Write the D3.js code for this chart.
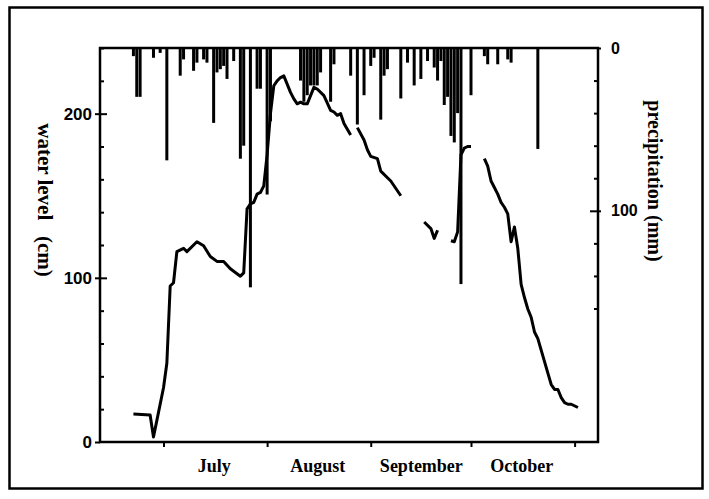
<!DOCTYPE html>
<html>
<head>
<meta charset="utf-8">
<script src="https://cdn.jsdelivr.net/npm/d3@7"></script>
<style>
  body { margin: 0; background: #fff; }
</style>
</head>
<body>
<div id="graph"></div>
<script>
// day of year (non-leap), water level in cm; null = gap in the record
const waterDays = [
    173,178,179,180,182,183,184,185,186,188,189,192,194,196,198,200,202,205,206,207,208,209,210,211,212,213,
    214,215,216,217,218,219,220,221,222,223,224,225,227,228,230,232,233,234,235,236,238,
    239,
    240,242,243,244,246,247,250,253,
    254,
    260,262,263,264,
    265,
    268,269,270,271,272,273,274,
    275,
    278,279,280,281,282,283,284,285,286,287,288,289,290,291,292,293,294,295,296,297,298,299,300,301,302,303,304,306
];
const waterLevels = [
    17,16.5,3,13,33,48,95,97,116,118,116,122,119.5,113,110,110,105.5,101,103,142,145,146,151,152,156,175,
    200,217,220,222,223,218,213,209,206,207,206,206,216,215,211,202,201,199,200,194,187,
    null,
    191.5,184,178,174,172.6,165,159,150,
    null,
    134,130,124,129,
    null,
    122.6,122,128,175,179,180,180,
    null,
    172.6,168,159,155,151,146,143,139,122,131,118,96,88,81,76,67,63,56,49,42,35,32,32,27,24,23,23,21
];

// daily precipitation in mm
const precipDays = [173,174,175,179,181,183,187,188,191,192,194,195,197,198,199,200,201,203,205,206,208,210,211,213,214,
    223,224,225,226,227,228,229,232,233,238,240,242,244,245,247,248,249,253,255,257,259,261,263,264,265,266,267,268,269,270,
    271,274,278,279,282,285,286,294];
const precipMm = [5,30,30,6,3,69,17,7,14,9,7,9,46,15,13,11,19,8,68,60,147,25,25,90,45,
    20,33,29,23,23,23,15,33,10,17,47,29,11,6,44,17,13,31,9,23,19,8,12,20,8,35,30,54,58,40,
    145,29,5,10,10,7,9,62];

const monthStarts = [182, 213, 244, 274, 305];
const monthMids = [197, 228, 259, 289];
const monthLabels = ['July', 'August', 'September', 'October'];

const width = 709;
const height = 499;
const margin = {top: 48, bottom: 57, left: 100, right: 111};

const serif = '"Liberation Serif", "DejaVu Serif", serif';
const sans = '"Liberation Sans", Arial, sans-serif';

const svg = d3.select('#graph')
    .append('svg')
        .attr('width', width)
        .attr('height', height);

svg.append('rect')
    .attr('x', 9.5).attr('y', 7.5)
    .attr('width', 693).attr('height', 481)
    .attr('fill', 'none')
    .attr('stroke', '#000')
    .attr('stroke-width', 2.5);

const x = d3.scaleLinear()
    .domain([163, 312])
    .range([margin.left, width - margin.right]);

const yWater = d3.scaleLinear()
    .domain([0, 240])
    .range([height - margin.bottom, margin.top]);

const yPrecip = d3.scaleLinear()
    .domain([0, 242])
    .range([margin.top, height - margin.bottom]);

// precipitation bars hanging from the top
svg.append('g')
    .attr('fill', '#000')
    .selectAll('rect')
    .data(precipDays)
    .join('rect')
        .attr('x', d => x(d) - 1.5)
        .attr('y', yPrecip(0))
        .attr('width', 3)
        .attr('height', (d, i) => yPrecip(precipMm[i]) - yPrecip(0));

// water level line
const line = d3.line()
    .defined((d, i) => waterLevels[i] != null)
    .x(d => x(d))
    .y((d, i) => yWater(waterLevels[i]));

svg.append('path')
    .datum(waterDays)
    .attr('fill', 'none')
    .attr('stroke', '#000')
    .attr('stroke-width', 3)
    .attr('stroke-linejoin', 'round')
    .attr('d', line);

// frame
svg.append('rect')
    .attr('x', margin.left).attr('y', margin.top)
    .attr('width', width - margin.left - margin.right)
    .attr('height', height - margin.top - margin.bottom)
    .attr('fill', 'none')
    .attr('stroke', '#000')
    .attr('stroke-width', 2.5);

function styleAxis(g, font, size) {
    g.select('.domain').remove();
    g.selectAll('.tick line').attr('stroke-width', 2);
    g.attr('font-family', font)
        .attr('font-size', size)
        .attr('font-weight', 'bold');
}

function leftAxis(g) {
    g.attr('transform', `translate(${margin.left}, 0)`)
        .call(d3.axisLeft(yWater).tickValues([0, 100, 200]).tickSize(5).tickPadding(3));
    styleAxis(g, sans, 17);
}
function leftMinor(g) {
    g.attr('transform', `translate(${margin.left}, 0)`)
        .call(d3.axisRight(yWater).tickValues(d3.range(20, 241, 20)).tickSize(4).tickFormat(''));
    styleAxis(g, sans, 10);
    g.selectAll('.tick line').filter(d => d % 100 === 0).attr('x2', 7);
}
function rightAxis(g) {
    g.attr('transform', `translate(${width - margin.right}, 0)`)
        .call(d3.axisRight(yPrecip).tickValues([0, 100]).tickSize(3).tickPadding(10));
    styleAxis(g, sans, 16);
}
function rightMinor(g) {
    g.attr('transform', `translate(${width - margin.right}, 0)`)
        .call(d3.axisLeft(yPrecip).tickValues(d3.range(20, 161, 20)).tickSize(4).tickFormat(''));
    styleAxis(g, sans, 10);
    g.selectAll('.tick line').filter(d => d === 100).attr('x2', -8);
}
function bottomAxis(g) {
    g.attr('transform', `translate(0, ${height - margin.bottom})`)
        .call(d3.axisBottom(x).tickValues(monthStarts).tickSize(5).tickFormat(''));
    styleAxis(g, serif, 10);
}
function monthAxis(g) {
    g.attr('transform', `translate(0, ${height - margin.bottom})`)
        .call(d3.axisBottom(x).tickValues(monthMids).tickSize(0).tickPadding(17)
            .tickFormat((d, i) => monthLabels[i]));
    styleAxis(g, serif, 18);
}

svg.append('g').call(leftMinor);
svg.append('g').call(leftAxis);
svg.append('g').call(rightMinor);
svg.append('g').call(rightAxis);
svg.append('g').call(bottomAxis);
svg.append('g').call(monthAxis);

// axis titles, rotated to read top to bottom
svg.append('text')
    .attr('transform', 'translate(38, 200) rotate(90)')
    .attr('text-anchor', 'middle')
    .attr('font-family', serif)
    .attr('font-size', 21)
    .attr('font-weight', 'bold')
    .attr('xml:space', 'preserve')
    .text('water level   (cm)');

svg.append('text')
    .attr('transform', 'translate(648, 181) rotate(90)')
    .attr('text-anchor', 'middle')
    .attr('font-family', serif)
    .attr('font-size', 20)
    .attr('font-weight', 'bold')
    .text('precipitation (mm)');
</script>
</body>
</html>
